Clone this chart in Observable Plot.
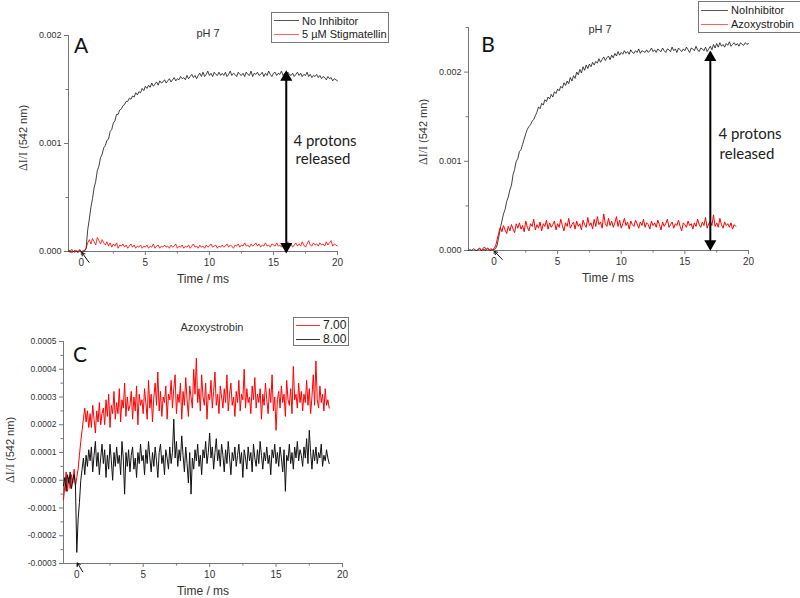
<!DOCTYPE html>
<html><head><meta charset="utf-8">
<script src="https://cdn.jsdelivr.net/npm/d3@7"></script>
<script src="https://cdn.jsdelivr.net/npm/@observablehq/plot@0.6"></script>
<style>
body{margin:0;background:#fff;}
#fig{position:relative;width:800px;height:598px;overflow:hidden;font-family:Arial,"Liberation Sans",sans-serif;color:#222;}
.panel{position:absolute;}
.lbl{position:absolute;white-space:nowrap;transform:translate(-50%,-50%);line-height:1;}
.rot{transform:translate(-50%,-50%) rotate(-90deg);}
.serif{font-family:"Liberation Serif","DejaVu Serif",serif;font-size:12px;}
.legend{position:absolute;border:1px solid #777;background:#fff;box-sizing:border-box;}
.row{display:flex;align-items:center;white-space:nowrap;}
.sw{display:inline-block;height:1px;margin-right:3px;}
</style></head>
<body><div id="fig"></div>
<script>
// ---------- DATA (values in units of 1e-5 ΔI/I) ----------
// Panel A: time grid -1 .. 20 ms, step 0.125
const aT0 = -1, aDt = 0.125;
const aNoInhibitor = [
0,1,-1,0,1,0,-1,1,0,-1,1,3,
20,30,41,49,59,65,75,79,87,90,96,98,
103,104,111,113,119,121,127,127,131,132,135,136,
139,139,142,141,144,143,147,145,148,147,151,149,
153,151,154,152,156,153,155,157,154,158,156,157,
159,156,158,160,157,159,161,158,160,159,162,160,
161,159,163,160,162,164,161,163,160,163,165,162,
166,162,164,167,163,165,162,166,164,163,166,163,
165,163,166,162,164,167,163,165,164,162,166,164,
163,165,162,166,164,163,167,162,165,164,166,163,
164,166,162,165,163,167,164,162,165,166,163,165,
164,167,163,165,162,166,164,163,165,162,164,166,
163,165,162,164,163,166,162,164,161,163,162,164,
161,163,160,162,161,159,162,160,161,158,160,159,158];
const aStigmatellin = [
1,-1,2,0,-1,1,0,2,-1,1,0,3,
8,11,7,12,9,6,13,10,7,11,8,6,
9,5,8,4,7,5,8,3,6,5,7,4,
6,3,5,7,4,6,3,5,4,6,3,5,
4,6,3,5,4,7,3,5,6,3,5,4,
6,4,5,3,6,4,5,7,3,5,4,6,
3,5,4,6,3,5,7,4,5,3,6,4,
5,3,6,4,5,7,4,5,6,3,5,4,
6,4,5,7,4,6,5,3,6,5,7,4,
6,5,8,5,6,4,7,5,6,8,5,7,
4,6,5,8,5,6,4,7,6,5,8,5,
6,4,7,5,6,9,5,7,4,6,8,5,
7,5,9,6,4,7,10,6,5,8,6,7,
5,8,6,7,5,9,6,8,10,5,7,6,5];

// Panel B: black grid -2 .. 20 ms step 0.125; red grid -1.25 .. 19 ms step 0.125
const bBlackT0 = -2, bRedT0 = -1.25, bDt = 0.125;
const bNoInhibitor = [
0,1,0,2,1,0,1,2,0,1,1,0,2,1,0,1,
1,2,6,15,25,33,41,46,55,60,68,73,
85,91,100,103,111,113,119,125,131,136,139,141,
145,147,151,155,161,159,165,163,169,167,172,170,
175,172,178,176,181,179,184,182,188,185,190,187,
194,190,196,193,200,197,203,199,206,202,208,204,
209,206,211,208,212,210,215,211,214,217,213,216,
218,214,219,216,221,218,223,219,222,220,224,221,
223,220,225,222,221,224,222,226,221,224,223,222,
225,222,224,227,223,225,222,226,224,223,227,224,
222,226,225,223,228,224,226,222,227,225,223,226,
224,228,225,222,227,226,224,229,225,223,227,226,
224,228,223,226,229,225,231,227,232,228,233,229,
231,228,232,230,234,229,231,233,230,232,229,233,
231,230,233,231,232];
const bAzoxystrobin = [
1,3,0,2,4,1,3,0,2,1,2,5,12,20,
26,21,28,23,19,27,22,29,24,20,30,25,
31,24,28,21,33,26,22,30,27,35,23,29,
25,32,22,30,27,34,24,31,26,29,33,23,
30,26,35,28,22,31,27,36,25,29,32,24,
33,27,30,23,34,29,26,37,28,31,24,35,
27,38,29,32,25,41,30,27,36,28,33,26,
31,38,27,34,25,30,36,28,32,24,33,29,
27,34,30,25,32,28,35,26,31,29,24,33,
28,31,26,34,29,23,32,27,30,35,26,29,
32,25,30,28,34,27,22,31,29,26,33,28,
30,24,31,27,35,29,26,32,28,37,25,30,
33,28,40,27,31,26,36,29,25,32,28,30,
26,31,24,29,27];

// Panel C: time grid -1 .. 19 ms step 0.1
const cT0 = -1, cDt = 0.1;
const cPH700 = [
-7,-2,3,-4,1,-3,2,-1,4,-2,
1,4,9,14,18,22,26,21,25,19,
24,19,27,22,17,25,21,28,20,24,
26,20,29,23,31,19,27,24,32,22,
28,24,33,21,29,26,35,23,30,25,
27,32,22,30,25,34,20,31,27,29,
24,33,28,22,36,26,31,21,30,35,
27,39,25,32,23,30,28,34,22,31,
29,36,26,33,38,24,31,28,35,22,
32,27,37,29,23,34,30,26,40,31,
44,28,33,25,38,30,27,35,22,31,
29,36,26,32,39,27,31,24,34,30,
26,33,28,38,25,31,35,27,30,23,
32,28,36,25,31,29,40,26,33,28,
30,24,34,29,37,26,31,28,33,22,
31,27,35,29,24,33,28,38,25,30,
18,29,32,26,34,28,31,23,36,29,
27,33,24,41,29,31,26,35,28,32,
25,31,28,36,27,33,24,30,38,27,
43,29,26,34,28,31,25,33,27,29,26];
const cPH800 = [
-2,1,-4,2,-1,3,-3,0,2,-2,
-26,-14,-8,0,4,8,2,9,5,11,
7,12,3,9,14,5,10,2,8,13,
6,11,1,9,4,13,7,0,10,5,
12,6,9,2,14,8,-5,10,5,11,
3,9,12,4,8,1,10,6,13,7,
9,2,11,6,14,8,3,10,5,12,
7,1,10,13,6,9,2,11,8,4,
12,6,10,22,8,14,5,11,7,16,
9,3,12,6,-1,10,-5,8,4,11,
7,13,5,9,2,11,8,14,6,10,
17,8,12,4,10,15,7,11,5,13,
9,3,11,6,14,8,2,10,7,12,
5,9,13,6,10,1,11,8,4,12,
7,10,3,13,8,5,11,6,14,9,
4,10,7,12,6,9,2,11,8,13,
6,10,5,12,8,3,11,-4,9,7,
13,6,10,4,12,8,14,7,11,9,
5,12,8,15,6,18,10,4,11,7,
12,6,10,8,13,5,9,7,11,8,6];

// ticks
const xTicks = [0,5,10,15,20];
const xMinor = [2.5,7.5,12.5,17.5];
const aYTicks = [0,0.001,0.002];
const aYMinor = [0.0005,0.0015];
const bYTicks = [0,0.001,0.002];
const bYMinor = [0.0005,0.0015,0.0025];
const cYTicks = [-0.0003,-0.0002,-0.0001,0,0.0001,0.0002,0.0003,0.0004,0.0005];
const cYMinor = [-0.00025,-0.00015,-0.00005,0.00005,0.00015,0.00025,0.00035,0.00045];

// annotations
const aProtonArrow = {t:16, top:0.00166, bottom:0};
const bProtonArrow = {t:17, top:0.00222, bottom:0.00002};
const aFlash = [{x1:0.6,y1:-0.0001,x2:0.05,y2:-0.00001}];
const bFlash = [{x1:0.65,y1:-0.0001,x2:0.05,y2:-0.00001}];
const cFlash = [{x1:0.45,y1:-0.00033,x2:0.05,y2:-0.000298}];

// ---------- BUILD ----------
const toRows = (vals, t0, dt) => vals.map((v,i)=>({t:t0+i*dt, v:v*1e-5}));
const axisColor = "#777";
function panel(o){
  const marks = [
    Plot.ruleX([o.xd[0]],{stroke:axisColor}),
    Plot.ruleY([o.yd[0]],{stroke:axisColor}),
    Plot.axisX({ticks:xTicks,tickSize:4,tickPadding:3,fontSize:10,stroke:axisColor,fill:"#333",label:null}),
    Plot.axisX({ticks:xMinor,tickSize:2.5,tickFormat:()=>"",stroke:axisColor,label:null}),
    Plot.axisY({ticks:o.yt,tickSize:4,tickPadding:3,fontSize:o.yfs,tickFormat:o.yfmt,stroke:axisColor,fill:"#333",label:null}),
    Plot.axisY({ticks:o.ym,tickSize:2.5,tickFormat:()=>"",stroke:axisColor,label:null}),
  ];
  for (const s of o.series) marks.push(Plot.line(s.data,{x:"t",y:"v",stroke:s.color,strokeWidth:s.w||0.8}));
  if (o.proton){
    const p=o.proton;
    marks.push(Plot.link([p],{x1:"t",x2:"t",y1:d=>d.bottom,y2:d=>d.top,stroke:"black",strokeWidth:2}));
    marks.push(Plot.dot([p],{x:"t",y:"top",symbol:"triangle",r:4.5,fill:"black",dy:5}));
    marks.push(Plot.dot([p],{x:"t",y:"bottom",symbol:"triangle",r:4.5,fill:"black",dy:-5,rotate:180}));
  }
  marks.push(Plot.arrow(o.flash,{x1:"x1",y1:"y1",x2:"x2",y2:"y2",stroke:"#111",strokeWidth:1,headLength:5}));
  return Plot.plot({
    width:o.w,height:o.h,marginLeft:o.ml,marginRight:o.mr,marginTop:o.mt,marginBottom:o.mb,
    x:{domain:o.xd},y:{domain:o.yd},
    style:{fontFamily:"Arial, 'Liberation Sans', sans-serif",background:"none",overflow:"visible",color:"#333"},
    marks
  });
}
const fig = document.getElementById("fig");
function place(el,x,y){el.classList.add("panel");el.style.left=x+"px";el.style.top=y+"px";fig.appendChild(el);}

place(panel({w:400,h:300,ml:68,mr:63,mt:35,mb:49,xd:[-1,20],yd:[0,0.002],yt:aYTicks,ym:aYMinor,yfs:9,
  yfmt:d=>d.toFixed(3),
  series:[{data:toRows(aStigmatellin,aT0,aDt),color:"#ff0000"},{data:toRows(aNoInhibitor,aT0,aDt),color:"#111"}],
  proton:aProtonArrow,flash:aFlash}),0,0);

place(panel({w:400,h:300,ml:68,mr:52,mt:27,mb:50,xd:[-2,20],yd:[0,0.0025],yt:bYTicks,ym:bYMinor,yfs:9,
  yfmt:d=>d.toFixed(3),
  series:[{data:toRows(bNoInhibitor,bBlackT0,bDt),color:"#111"},{data:toRows(bAzoxystrobin,bRedT0,bDt),color:"#ff0000",w:1}],
  proton:bProtonArrow,flash:bFlash}),400,0);

place(panel({w:400,h:308,ml:63,mr:58,mt:51,mb:35,xd:[-1,20],yd:[-0.0003,0.0005],yt:cYTicks,ym:cYMinor,yfs:8.5,
  yfmt:d=>d.toFixed(4),
  series:[{data:toRows(cPH700,cT0,cDt),color:"#ff0000",w:1},{data:toRows(cPH800,cT0,cDt),color:"#111",w:1}],
  flash:cFlash}),0,290);

// ---------- TEXT ----------
function label(text,x,y,css,rot){
  const d=document.createElement("div");d.className="lbl"+(rot?" rot":"");d.textContent=text;
  d.style.left=x+"px";d.style.top=y+"px";Object.assign(d.style,css||{});fig.appendChild(d);
  return d;
}
function yLabel(unit,x,y){
  const d=label("",x,y,{fontSize:"11px",color:"#333"},true);
  const s=document.createElement("span");s.className="serif";s.textContent="ΔI/I";
  d.appendChild(s);d.appendChild(document.createTextNode(" ("+unit+")"));
}
const letter={fontFamily:"Lato, 'Open Sans', sans-serif",fontSize:"21px",color:"#111"};
const big={fontFamily:"Lato, 'Open Sans', sans-serif",fontSize:"15px",color:"#222"};
const small={fontSize:"11px",color:"#333"};
const axl={fontSize:"12px",color:"#333"};
label("A",81,44,letter); label("B",488,43,letter); label("C",80,353,letter);
label("pH 7",208,33,small); label("pH 7",600,29,small); label("Azoxystrobin",212,327,small);
label("4 protons",325,140,big); label("released",323,158,big);
label("4 protons",750,133,big); label("released",747,153,big);
label("Time / ms",203,279,axl); label("Time / ms",608,278,axl); label("Time / ms",203,591,axl);
yLabel("542 nm",23,138); yLabel("542 mn",423,132); yLabel("542 nm",10,450);

function legend(x,y,w,h,items,fs,swW,pad){
  const L=document.createElement("div");L.className="legend";
  Object.assign(L.style,{left:x+"px",top:y+"px",width:w+"px",height:h+"px",fontSize:fs+"px",padding:"0 0 0 "+pad+"px",
    display:"flex",flexDirection:"column",justifyContent:"space-evenly"});
  for(const it of items){
    const r=document.createElement("div");r.className="row";
    const s=document.createElement("span");s.className="sw";s.style.width=swW+"px";s.style.background=it.color;
    const t=document.createElement("span");t.textContent=it.name;
    r.appendChild(s);r.appendChild(t);L.appendChild(r);
  }
  fig.appendChild(L);
}
legend(271,12,118,31,[{name:"No Inhibitor",color:"#555"},{name:"5 µM Stigmatellin",color:"#ff6060"}],11,25,2);
legend(698,1,104,32,[{name:"NoInhibitor",color:"#555"},{name:"Azoxystrobin",color:"#ff6060"}],11,27,2);
legend(293,317,56,29,[{name:"7.00",color:"#ff3030"},{name:"8.00",color:"#333"}],12,24,2);
</script></body></html>
